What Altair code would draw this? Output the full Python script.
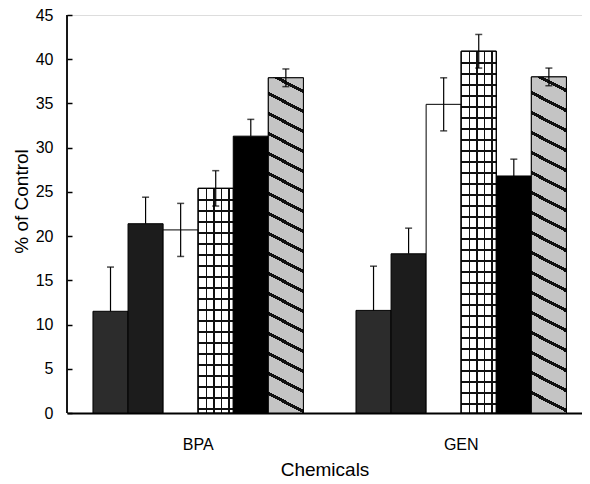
import math
import altair as alt
import pandas as pd

# ---------------- data ----------------
groups = ["BPA", "GEN"]
treatments = ["T1", "T2", "T3", "T4", "T5", "T6"]
bpa_values = [11.5, 21.4, 20.7, 25.4, 31.3, 37.9]
gen_values = [11.6, 18.0, 34.9, 40.9, 26.8, 38.0]
bpa_errors = [5.0, 3.0, 3.0, 2.0, 1.9, 1.0]
gen_errors = [5.0, 2.9, 3.0, 1.9, 1.9, 1.0]
y_ticks = [0, 5, 10, 15, 20, 25, 30, 35, 40, 45]
light_treatments = ["T3", "T4", "T6"]  # bars where the lower whisker shows

rows = []
for g, vals, errs in [("BPA", bpa_values, bpa_errors), ("GEN", gen_values, gen_errors)]:
    for t, v, e in zip(treatments, vals, errs):
        rows.append({"group": g, "treatment": t, "value": v, "lo": v - e, "hi": v + e})
df = pd.DataFrame(rows)

# ---------------- layout / style ----------------
PLOT_W, PLOT_H = 515, 398
Y_MAX = 45
PX = PLOT_H / Y_MAX
STEP = 263.0
BAR_W = STEP * 0.8 / len(treatments)
FONT = "Liberation Sans"

fills = ["#2c2c2c", "#1c1c1c", "#ffffff", "#ffffff", "#000000", "#c4c4c4"]


def stops_from_lines(length, positions, thickness, bg, fg):
    stops = [{"offset": 0, "color": bg}]
    for p in positions:
        a = p / length
        b = (p + thickness) / length
        if a <= 0 or b >= 1:
            continue
        stops += [{"offset": a, "color": bg}, {"offset": a, "color": fg},
                  {"offset": b, "color": fg}, {"offset": b, "color": bg}]
    stops.append({"offset": 1, "color": bg})
    return stops


def hlines_gradient(height, spacing, thickness, bg, fg):
    pos = []
    y = spacing
    while y < height:
        pos.append(y)
        y += spacing
    return {"gradient": "linear", "x1": 0, "y1": 0, "x2": 0, "y2": 1,
            "stops": stops_from_lines(height, pos, thickness, bg, fg)}


def vlines_gradient(width, spacing, thickness, bg, fg):
    pos = []
    x = spacing
    while x < width - 1:
        pos.append(x)
        x += spacing
    return {"gradient": "linear", "x1": 0, "y1": 0, "x2": 1, "y2": 0,
            "stops": stops_from_lines(width, pos, thickness, bg, fg)}


def diag_gradient(width, height, slope, vspacing, thickness, bg, fg):
    c = 1 / math.sqrt(1 + slope * slope)
    s = slope * c
    P = c * height + s * width
    a = -s * width / P
    b = c * height / P
    n2 = a * a + b * b
    gx, gy = a / n2, b / n2
    period = vspacing * c
    pos = []
    p = period * 0.6
    while p < P:
        pos.append(p)
        p += period
    return {"gradient": "linear", "x1": 1, "y1": 0, "x2": 1 + gx, "y2": gy,
            "stops": stops_from_lines(P, pos, thickness, bg, fg)}


y_axis = alt.Axis(values=y_ticks, title="% of Control", offset=-5, domain=False,
                  grid=False, ticks=True, tickSize=5, tickWidth=1.5, tickColor="black",
                  labelPadding=14, labelFontSize=16, labelColor="black", labelFont=FONT,
                  titleFontSize=19, titleFont=FONT, titleFontWeight="normal",
                  titleColor="black", titlePadding=4, titleY=186)
y_scale = alt.Scale(domain=[0, Y_MAX], nice=False, zero=True)

x_enc = alt.X("group:N",
              scale=alt.Scale(domain=groups, paddingInner=0.2, paddingOuter=0.079, align=0.625),
              axis=alt.Axis(title="Chemicals", labelAngle=0, ticks=False, tickSize=0,
                            domainColor="black", domainWidth=1.8, labelPadding=23,
                            labelFontSize=16, labelColor="black", labelFont=FONT,
                            titleFontSize=19, titleFont=FONT, titleFontWeight="normal",
                            titleColor="black", titlePadding=8))
xo_enc = alt.XOffset("treatment:N", scale=alt.Scale(domain=treatments, paddingInner=0, paddingOuter=0))


def yenc(field):
    return alt.Y(field, scale=y_scale, axis=y_axis)


base = alt.Chart(df).encode(x=x_enc, xOffset=xo_enc, y=yenc("value:Q"))

bars = base.mark_bar(stroke="black", strokeWidth=1).encode(
    color=alt.Color("treatment:N", scale=alt.Scale(domain=treatments, range=fills), legend=None)
)

layers = [bars]
for g, vals in [("BPA", bpa_values), ("GEN", gen_values)]:
    h4 = vals[3] * PX
    h6 = vals[5] * PX
    sel4 = (alt.datum.group == g) & (alt.datum.treatment == "T4")
    sel6 = (alt.datum.group == g) & (alt.datum.treatment == "T6")
    layers.append(base.transform_filter(sel4).mark_bar(
        fill=hlines_gradient(h4, 11.0, 1.4, "#ffffff", "#111111"), stroke="black", strokeWidth=1))
    layers.append(base.transform_filter(sel4).mark_bar(
        fill=vlines_gradient(BAR_W, 7.5, 1.4, "rgba(255,255,255,0)", "#111111"),
        stroke="black", strokeWidth=1))
    layers.append(base.transform_filter(sel6).mark_bar(
        fill=diag_gradient(BAR_W, h6, 0.52, 20.0, 3.2, "#c4c4c4", "#111111"),
        stroke="black", strokeWidth=1))

light = base.transform_filter(alt.FieldOneOfPredicate(field="treatment", oneOf=light_treatments))

err_up = base.mark_rule(color="black", strokeWidth=1.2).encode(y=yenc("value:Q"), y2="hi:Q")
err_down = light.mark_rule(color="black", strokeWidth=1.2).encode(y=yenc("lo:Q"), y2="value:Q")
cap_hi = base.mark_tick(color="black", size=7, thickness=1.5).encode(y=yenc("hi:Q"))
cap_lo = light.mark_tick(color="black", size=7, thickness=1.5).encode(y=yenc("lo:Q"))

axis_line_df = pd.DataFrame({"y0": [0], "y1": [Y_MAX]})
left_line = alt.Chart(axis_line_df).mark_rule(color="black", strokeWidth=1.8).encode(
    x=alt.value(0), y=yenc("y0:Q"), y2="y1:Q")

chart = alt.layer(*layers, err_up, err_down, cap_hi, cap_lo, left_line).properties(
    width=PLOT_W, height=PLOT_H,
    autosize=alt.AutoSizeParams(type="none"),
    padding={"left": 59, "top": 7, "right": 0, "bottom": 70},
).configure_view(stroke=None).configure(font=FONT, background="white")

chart.save("out.html", embed_options={"renderer": "svg", "actions": False})
